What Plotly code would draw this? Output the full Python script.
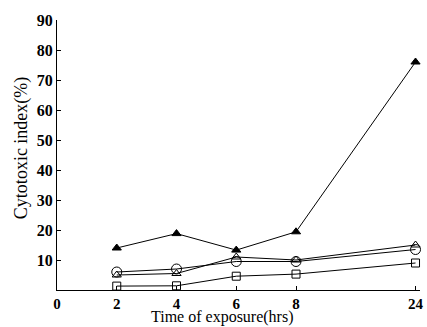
import plotly.graph_objects as go

hours = [2, 4, 6, 8, 24]
x_tick_labels = ["0", "2", "4", "6", "8", "24"]
filled_triangle = [14, 18.8, 13.3, 19.4, 76]
open_triangle = [5, 5.5, 11, 10, 15]
open_circle = [6, 7, 9.5, 9.5, 13.5]
open_square = [1.3, 1.4, 4.6, 5.3, 9]
y_tick_vals = [10, 20, 30, 40, 50, 60, 70, 80, 90]

# axis is compressed after 8 h: 24 h sits two steps after 8 h
def axis_pos(h):
    return h if h <= 8 else 12

xpos = [axis_pos(h) for h in hours]
tick_pos = [0] + xpos

fig = go.Figure()
series = [
    (filled_triangle, "triangle-up", 8, "black"),
    (open_triangle, "triangle-up-open", 8, "black"),
    (open_circle, "circle-open", 10, "black"),
    (open_square, "square-open", 8, "black"),
]
for vals, sym, size, col in series:
    fig.add_trace(go.Scatter(
        x=xpos, y=vals, mode="lines+markers",
        line=dict(color="black", width=1),
        marker=dict(symbol=sym, size=size, color=col, line=dict(color="black", width=1)),
        showlegend=False, cliponaxis=False,
    ))

fig.update_layout(
    width=427, height=327,
    margin=dict(l=57, r=7, t=20, b=37),
    paper_bgcolor="white", plot_bgcolor="white",
    font=dict(family="Liberation Serif", size=15, color="black"),
    xaxis=dict(
        range=[0, 12.15], tickvals=tick_pos, ticktext=x_tick_labels,
        showgrid=False, zeroline=False, showline=True, linecolor="black", linewidth=1,
        ticks="inside", ticklen=4, tickcolor="black", automargin=False,
        tickfont=dict(size=15, family="Liberation Serif", weight="bold"),
    ),
    yaxis=dict(
        range=[0, 90], tickvals=y_tick_vals,
        showgrid=False, zeroline=False, showline=True, linecolor="black", linewidth=1,
        ticks="inside", ticklen=4, tickcolor="black", automargin=False,
        tickfont=dict(size=16, family="Liberation Serif", weight="bold"),
    ),
    annotations=[
        dict(text="Time of exposure(hrs)", xref="paper", yref="paper", x=0.455, y=-0.14,
             xanchor="center", yanchor="bottom", showarrow=False, font=dict(size=16)),
        dict(text="Cytotoxic index(%)", xref="paper", yref="paper", x=-0.096, y=0.526,
             xanchor="center", yanchor="middle", textangle=-90, showarrow=False, font=dict(size=18)),
    ],
)
fig.write_html("out.html", config={"displayModeBar": False},
               post_script="document.body.style.margin='0';document.body.style.overflow='hidden';")
